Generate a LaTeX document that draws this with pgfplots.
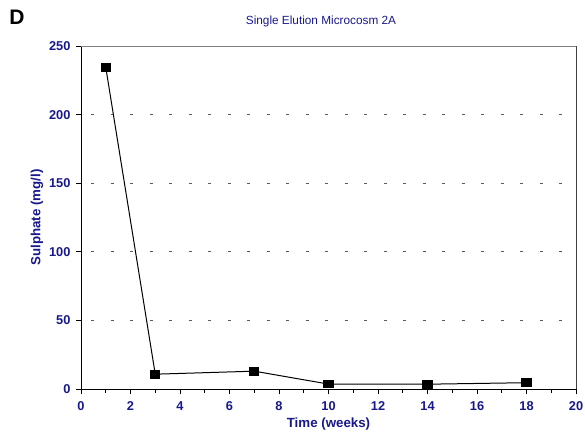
\documentclass[border=0pt]{standalone}
\usepackage{fontspec}
\setmainfont{Liberation Sans}
\usepackage{pgfplots}
\pgfplotsset{compat=1.18}
\definecolor{labblue}{RGB}{24,24,138}
\definecolor{gridgray}{RGB}{90,90,90}
\begin{document}
\begin{tikzpicture}[x=1pt,y=1pt]
\path[use as bounding box] (0,0) rectangle (585,432);
\node[font=\fontsize{21}{24}\selectfont\bfseries] at (17,415) {D};
\node[font=\fontsize{11.8}{14}\selectfont, text=labblue] at (321,411) {Single Elution Microcosm 2A};
\begin{axis}[
  at={(81pt,43pt)}, anchor=south west,
  scale only axis, width=495pt, height=343pt,
  xmin=0, xmax=20, ymin=0, ymax=250,
  xtick={0,2,...,20}, minor xtick={1,3,...,19},
  ytick={0,50,...,250},
  axis lines=left, axis line style={-, line width=0.8pt, black},
  tick align=outside, tickwidth=5pt, subtickwidth=3.5pt,
  tick style={line width=0.8pt, black},
  xtick pos=bottom, ytick pos=left,
  /pgf/number format/assume math mode=true,
  tick label style={font=\fontsize{12.8}{14}\selectfont\bfseries, text=labblue},
  xticklabel style={yshift=-4pt},
  yticklabel style={xshift=-2pt},
  label style={font=\fontsize{13.3}{15}\selectfont\bfseries, text=labblue},
  xlabel={Time (weeks)}, ylabel={Sulphate (mg/l)},
  xlabel style={at={(axis description cs:0.5,-0.102)}, anchor=center},
  ylabel style={at={(axis description cs:-0.089,0.5)}, anchor=center},
  clip=false,
]
% dashed reference lines
\foreach \v in {50,100,150,200} {
  \edef\tmp{\noexpand\draw[gridgray, line width=0.7pt, dash pattern=on 3pt off 16.5pt, dash phase=-10pt] (axis cs:0,\v) -- (axis cs:20,\v);}
  \tmp
}
% top and right frame
\draw[gray, line width=1pt] (rel axis cs:0,1) -- (rel axis cs:1,1);
\draw[black!75, line width=0.8pt] (rel axis cs:1,1) -- (rel axis cs:1,0);
\addplot[black, line width=1pt, mark=square*, mark size=4.3pt,
  mark options={xscale=1.1, yscale=0.9, solid}] coordinates {
  (1,234.5) (3,10.8) (7,13.0) (10,3.6) (14,3.5) (18,4.6)
};
\end{axis}
\end{tikzpicture}
\end{document}
